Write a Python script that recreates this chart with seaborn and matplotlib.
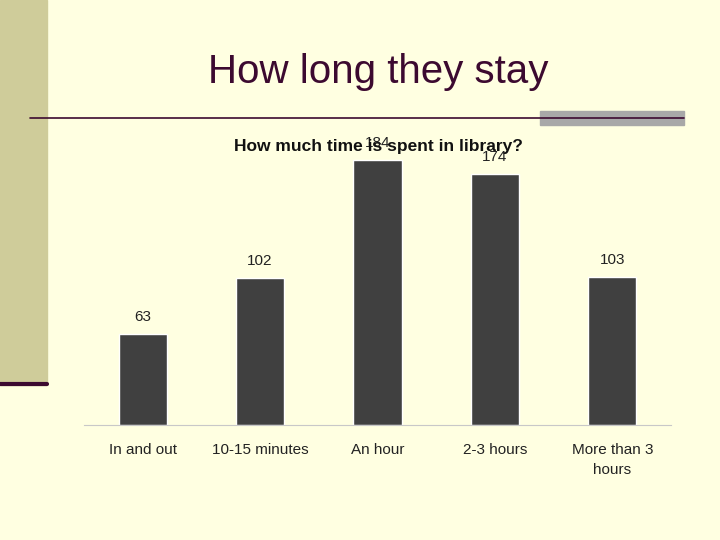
import matplotlib
matplotlib.use("Agg")
import matplotlib.pyplot as plt
import seaborn as sns
import pandas as pd
from matplotlib.patches import Rectangle
from matplotlib.lines import Line2D

categories = ["In and out", "10-15 minutes", "An hour", "2-3 hours", "More than 3\nhours"]
values = [63, 102, 184, 174, 103]

sns.set_style("white")
plt.rcParams['font.family'] = ['Liberation Sans', 'DejaVu Sans']
bg = "#FFFFE1"
W, H = 720, 540
fig = plt.figure(figsize=(7.2, 5.4), dpi=100, facecolor=bg)

fig.patches.append(Rectangle((0, 1 - 385/H), 47/W, 385/H, transform=fig.transFigure, color="#CFCC9A", zorder=0))
fig.lines.append(Line2D([0, 47/W], [1-384/H]*2, transform=fig.transFigure, color="#3C0A30", lw=3))
fig.lines.append(Line2D([30/W, 684/W], [1-118/H]*2, transform=fig.transFigure, color="#3C0A30", lw=1.2))
fig.patches.append(Rectangle((540/W, 1-125/H), 144/W, 14/H, transform=fig.transFigure, color="#A8A8A8", zorder=1))
fig.text(378/W, 1-72/H, "How long they stay", ha="center", va="center", fontsize=29, color="#3C0A30")

ax = fig.add_axes([84/W, 1-425/H, (671-84)/W, 288/H])
ax.set_facecolor("none")
df = pd.DataFrame({"cat": categories, "val": values})
sns.barplot(data=df, x="cat", y="val", color="#404040", width=0.41, ax=ax, saturation=1)
ax.set_ylim(0, 200)
ax.set_xlim(-0.5, 4.5)
for i, v in enumerate(values):
    ax.text(i, v + 7, str(v), ha="center", va="bottom", fontsize=11, color="#222222")
ax.set_xlabel(""); ax.set_ylabel("")
ax.set_yticks([])
ax.tick_params(axis="x", length=0, labelsize=11, pad=13, colors="#222222")
for lab in ax.get_xticklabels():
    lab.set_linespacing(1.5)
for s in ["top", "right", "left"]:
    ax.spines[s].set_visible(False)
ax.spines["bottom"].set_color("#C8C8C8")
fig.text(378/W, 1-146/H, "How much time is spent in library?", ha="center", va="center", fontsize=12.5, fontweight="bold", color="#111111")
fig.savefig("out.png", dpi=100, facecolor=bg)
